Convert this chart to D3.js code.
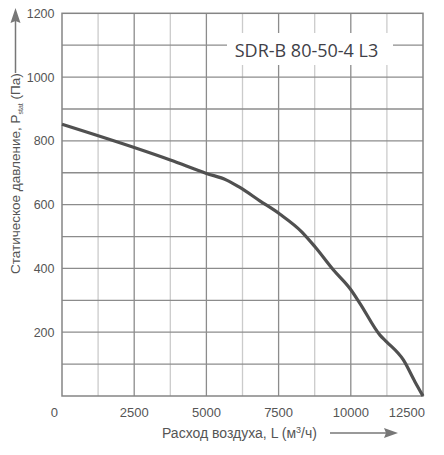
<!DOCTYPE html>
<html><head><meta charset="utf-8">
<script src="https://cdn.jsdelivr.net/npm/d3@7"></script>
<style>body{margin:0;background:#fff}svg{display:block}</style>
</head><body>
<svg id="c" width="444" height="455"></svg>
<script>
const flow = [0,2500,3750,5000,5700,6160,6850,7550,8300,8760,9400,9970,10320,11010,11240,11820,12220,12500];
const pressure = [852,779,740,698,677,654,612,570,515,468,395,337,290,191,170,113,45,0];
const xTicks = [0,2500,5000,7500,10000,12500];
const xMinor = [1250,3750,6250,8750,11250];
const yGrid = [100,200,300,400,500,600,700,800,900,1000,1100];
const yTicks = [200,400,600,800,1000,1200];
const title = "SDR-B 80-50-4 L3";

const svg = d3.select("#c");
const m = {l:62, r:423, t:13.3, b:396};
const x = d3.scaleLinear().domain([0,12500]).range([m.l,m.r]);
const y = d3.scaleLinear().domain([0,1200]).range([m.b,m.t]);
const grey = "#555";

// minor vertical grid
svg.append("g").selectAll("line").data(xMinor).join("line")
  .attr("x1",d=>x(d)).attr("x2",d=>x(d)).attr("y1",m.t).attr("y2",m.b)
  .attr("stroke","#cbcbcb").attr("stroke-width",1.3);
// major vertical grid
svg.append("g").selectAll("line").data(xTicks.slice(1,-1)).join("line")
  .attr("x1",d=>x(d)).attr("x2",d=>x(d)).attr("y1",m.t).attr("y2",m.b)
  .attr("stroke","#8c8c8c").attr("stroke-width",1.3);
// horizontal grid
svg.append("g").selectAll("line").data(yGrid).join("line")
  .attr("x1",m.l).attr("x2",m.r).attr("y1",d=>y(d)).attr("y2",d=>y(d))
  .attr("stroke","#8c8c8c").attr("stroke-width",1.3);
// border
svg.append("rect").attr("x",m.l).attr("y",m.t).attr("width",m.r-m.l).attr("height",m.b-m.t)
  .attr("fill","none").attr("stroke","#858585").attr("stroke-width",1.5);

// title box
svg.append("rect").attr("x",227).attr("y",33).attr("width",166).attr("height",32).attr("fill","#fff");
svg.append("text").attr("x",306.5).attr("y",57).attr("text-anchor","middle")
  .attr("font-family","Open Sans").attr("font-size",18).attr("fill","#3f3f48").text(title);

// curve
const line = d3.line().x((d,i)=>x(flow[i])).y(d=>y(d)).curve(d3.curveMonotoneX);
svg.append("path").attr("d",line(pressure)).attr("fill","none")
  .attr("stroke","#505050").attr("stroke-width",3.2).attr("stroke-linejoin","round");

// x tick labels
svg.append("g").selectAll("text").data(xTicks).join("text")
  .attr("x",(d,i)=> i===0 ? x(d)-4 : (i===xTicks.length-1 ? x(d)+2 : x(d)))
  .attr("y",416.5)
  .attr("text-anchor",(d,i)=> i===0 ? "end" : (i===xTicks.length-1 ? "end" : "middle"))
  .attr("font-family","Liberation Sans, Arial").attr("font-size",13).attr("fill",grey).text(d=>d);
// y tick labels
svg.append("g").selectAll("text").data(yTicks).join("text")
  .attr("x",54.5).attr("y",d=>y(d)).attr("dy","0.36em").attr("text-anchor","end")
  .attr("font-family","Liberation Sans, Arial").attr("font-size",12.5).attr("fill",grey).text(d=>d);

// x axis label + arrow
const xl = svg.append("text").attr("x",162).attr("y",438)
  .attr("font-family","Liberation Sans, Arial").attr("font-size",14).attr("fill",grey);
xl.append("tspan").text("Расход воздуха, L (м");
xl.append("tspan").attr("font-size",9).attr("dy",-5).text("3");
xl.append("tspan").attr("dy",5).text("/ч)");
svg.append("line").attr("x1",330).attr("x2",392).attr("y1",433).attr("y2",433)
  .attr("stroke","#777").attr("stroke-width",1.5);
svg.append("path").attr("d","M398,433 L384,428 L386,433 L384,438 Z").attr("fill","#777");

// y axis label + arrow
const yl = svg.append("text").attr("transform","translate(20,274) rotate(-90)")
  .attr("font-family","Liberation Sans, Arial").attr("font-size",13.5).attr("fill",grey);
yl.append("tspan").text("Статическое давление, P");
yl.append("tspan").attr("font-size",7).attr("dy",3).text("stat");
yl.append("tspan").attr("dy",-3).text(" (Па)");
svg.append("line").attr("x1",15.5).attr("x2",15.5).attr("y1",73).attr("y2",20)
  .attr("stroke","#777").attr("stroke-width",1.5);
svg.append("path").attr("d","M15.5,8 L10.5,23 L15.5,21 L20.5,23 Z").attr("fill","#777");
</script>
</body></html>
